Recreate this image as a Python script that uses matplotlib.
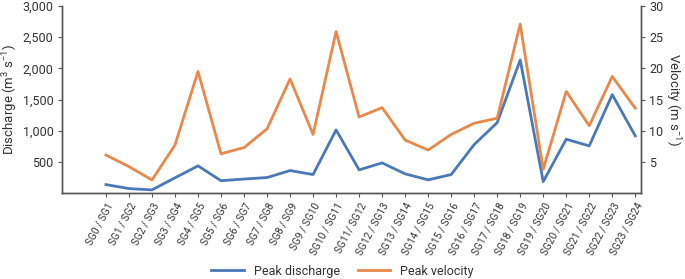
import matplotlib.pyplot as plt
from matplotlib.ticker import FuncFormatter

plt.rcParams['font.family'] = ['Roboto', 'DejaVu Sans']
plt.rcParams['mathtext.fontset'] = 'custom'
plt.rcParams['mathtext.rm'] = 'Roboto'

pairs = ["SG0 / SG1", "SG1 / SG2", "SG2 / SG3", "SG3 / SG4", "SG4 / SG5", "SG5 / SG6",
         "SG6 / SG7", "SG7 / SG8", "SG8 / SG9", "SG9 / SG10", "SG10 / SG11", "SG11/ SG12",
         "SG12 / SG13", "SG13 / SG14", "SG14 / SG15", "SG15 / SG16", "SG16 / SG17",
         "SG17 / SG18", "SG18 / SG19", "SG19 / SG20", "SG20 / SG21", "SG21 / SG22",
         "SG22 / SG23", "SG23 / SG24"]
discharge = [136, 72, 51, 245, 436, 198, 225, 249, 361, 297, 1013, 372,
             484, 308, 212, 297, 778, 1130, 2135, 184, 864, 756, 1579, 917]
velocity = [6.1, 4.25, 2.1, 7.7, 19.5, 6.3, 7.3, 10.3, 18.3, 9.4, 25.9, 12.2,
            13.7, 8.5, 6.9, 9.4, 11.2, 12.0, 27.1, 3.8, 16.3, 10.8, 18.7, 13.6]

blue = '#4a78b9'
orange = '#e9884b'
grey = '#333333'

fig = plt.figure(figsize=(6.85, 2.79), dpi=100)
ax = fig.add_axes([0.0905, 0.308, 0.8453, 0.6705])
ax2 = ax.twinx()

x = list(range(len(pairs)))
l1, = ax.plot(x, discharge, color=blue, lw=2, label='Peak discharge')
l2, = ax2.plot(x, velocity, color=orange, lw=2, label='Peak velocity')

ax.set_xlim(-1.91, 23.25)
ax.set_ylim(0, 3000)
ax2.set_ylim(0, 30)
ax.set_yticks([500, 1000, 1500, 2000, 2500, 3000])
ax.yaxis.set_major_formatter(FuncFormatter(lambda v, p: '{:,.0f}'.format(v)))
ax2.set_yticks([5, 10, 15, 20, 25, 30])
ax.set_xticks(x)
ax.set_xticklabels(pairs, rotation=62, ha='right', rotation_mode='anchor', fontsize=7.3, color=grey)

for a in (ax, ax2):
    a.spines['top'].set_visible(False)
    for s in a.spines.values():
        s.set_color('#555555')
        s.set_linewidth(1)
    a.tick_params(axis='y', colors='#555555', labelcolor=grey, labelsize=9, length=3, pad=3)
    a.tick_params(axis='x', colors='#555555', labelcolor=grey, length=3, pad=3)

ax.set_ylabel('Discharge (m$^3$ s$^{-1}$)', fontsize=9.5, color=grey, labelpad=2)
ax2.set_ylabel('Velocity (m s$^{-1}$)', fontsize=9.5, color=grey, rotation=270, labelpad=14)

fig.legend([l1, l2], ['Peak discharge', 'Peak velocity'], loc='lower center',
           bbox_to_anchor=(0.5, -0.035), ncol=2, frameon=False, fontsize=9,
           handlelength=2.6, columnspacing=1.4, labelcolor=grey)

fig.savefig('out.png', dpi=100)
